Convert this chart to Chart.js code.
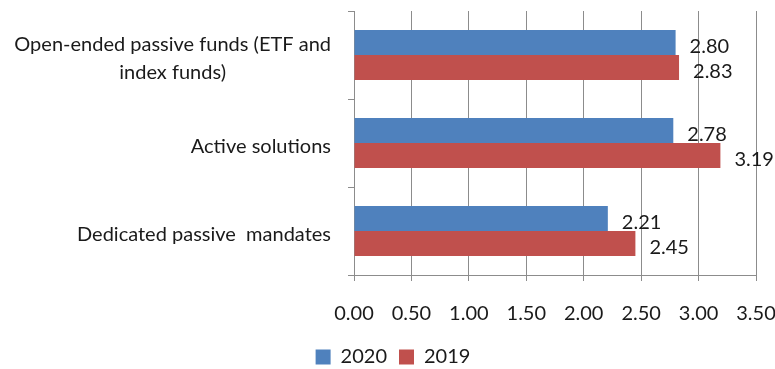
<!DOCTYPE html>
<html>
<head>
<meta charset="utf-8">
<script src="https://cdn.jsdelivr.net/npm/chart.js@4/dist/chart.umd.min.js"></script>
<style>
  html, body { margin: 0; padding: 0; background: #fff; }
  #wrap { width: 775px; height: 369px; }
</style>
</head>
<body>
<div id="wrap"><canvas id="chart"></canvas></div>
<script>
var categories = [
    ['Open-ended passive funds (ETF and', 'index funds)'],
    ['Active solutions'],
    ['Dedicated passive  mandates']
]
var values2020 = [2.80, 2.78, 2.21]
var values2019 = [2.83, 3.19, 2.45]
var xTicks = [0, 0.5, 1, 1.5, 2, 2.5, 3, 3.5]

var fontName = 'Lato, "Liberation Sans", sans-serif'
var fontSize = 20
var gridColor = '#8c8c8c'

// category labels: right aligned block, lines centred on each other
var catLabels = {
    id: 'catLabels',
    afterDraw: function(chart) {
        var c = chart.ctx
        var y = chart.scales.y
        c.save()
        c.font = fontSize + 'px ' + fontName
        c.fillStyle = '#1a1a1a'
        c.textAlign = 'center'
        c.textBaseline = 'middle'
        categories.forEach(function(lines, i) {
            var w = 0
            lines.forEach(function(l) { w = Math.max(w, c.measureText(l).width) })
            var cx = 331 - w / 2
            var cy = y.getPixelForValue(i) + 4 - (lines.length - 1) * 14
            lines.forEach(function(l, j) {
                c.fillText(l, cx, cy + j * 28)
            })
        })
        c.restore()
    }
}

// value labels next to bar ends
var valueLabels = {
    id: 'valueLabels',
    afterDatasetsDraw: function(chart) {
        var c = chart.ctx
        c.save()
        c.font = fontSize + 'px ' + fontName
        c.fillStyle = '#1a1a1a'
        c.textAlign = 'left'
        c.textBaseline = 'middle'
        chart.data.datasets.forEach(function(ds, di) {
            chart.getDatasetMeta(di).data.forEach(function(bar, i) {
                c.fillText(ds.data[i].toFixed(2), bar.x + 14, bar.y + 4)
            })
        })
        c.restore()
    }
}

// nudge the legend a little lower and to the right, like the original
var legendShift = {
    id: 'legendShift',
    afterLayout: function(chart) {
        var lg = chart.legend
        lg.top += 10
        lg.bottom += 10
        lg.left += 15
        lg.right += 15
    }
}

new Chart(document.getElementById('chart'), {
    type: 'bar',
    data: {
        labels: categories.map(function(l) { return l.join(' ') }),
        datasets: [{
            label: '2020',
            data: values2020,
            backgroundColor: '#4f81bd',
            categoryPercentage: 0.57,
            barPercentage: 1
        }, {
            label: '2019',
            data: values2019,
            backgroundColor: '#c0504d',
            categoryPercentage: 0.57,
            barPercentage: 1
        }]
    },
    options: {
        indexAxis: 'y',
        responsive: true,
        maintainAspectRatio: false,
        animation: false,
        layout: { padding: { top: 11, right: 19, left: 0, bottom: 2 } },
        scales: {
            x: {
                min: 0,
                max: 3.5,
                afterBuildTicks: function(scale) {
                    scale.ticks = xTicks.map(function(v) { return { value: v } })
                },
                afterFit: function(scale) {
                    scale.height = 50
                    scale.paddingLeft = 0
                    scale.paddingRight = 0
                },
                grid: { color: gridColor, lineWidth: 1, tickLength: 6, drawTicks: true },
                border: { color: gridColor },
                ticks: {
                    color: '#1a1a1a',
                    padding: 21,
                    maxRotation: 0,
                    font: { family: fontName, size: fontSize },
                    callback: function(v) { return Number(v).toFixed(2) }
                }
            },
            y: {
                offset: true,
                afterFit: function(scale) { scale.width = 354 },
                grid: { offset: true, drawOnChartArea: false, color: gridColor, tickLength: 6 },
                border: { color: gridColor },
                ticks: { display: false }
            }
        },
        plugins: {
            legend: {
                position: 'bottom',
                labels: {
                    boxWidth: 15,
                    boxHeight: 15,
                    padding: 12,
                    color: '#1a1a1a',
                    font: { family: fontName, size: fontSize }
                }
            },
            tooltip: { enabled: false }
        }
    },
    plugins: [catLabels, valueLabels, legendShift]
})
</script>
</body>
</html>
